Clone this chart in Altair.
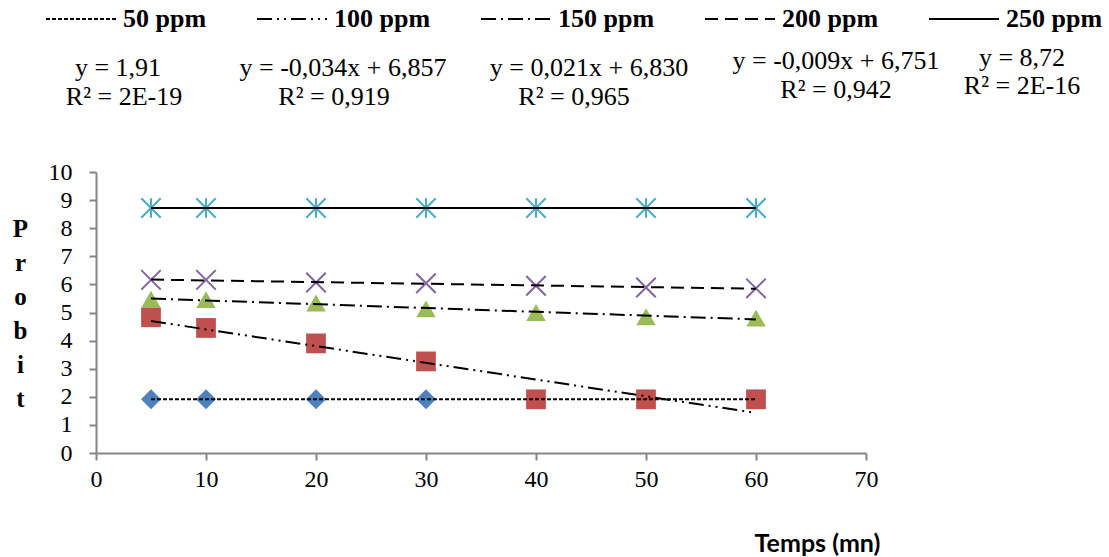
import altair as alt
import pandas as pd

# ---- data ----
temps = [5, 10, 20, 30, 40, 50, 60]
series_names = ["50 ppm", "100 ppm", "150 ppm", "200 ppm", "250 ppm"]
p50 = [1.91, 1.91, 1.91, 1.91, 1.91, 1.91, 1.91]
p100 = [4.83, 4.45, 3.90, 3.26, 1.91, 1.91, 1.91]
p150 = [5.47, 5.46, 5.34, 5.13, 5.00, 4.85, 4.80]
p200 = [6.16, 6.16, 6.07, 6.04, 5.95, 5.89, 5.86]
p250 = [8.72, 8.72, 8.72, 8.72, 8.72, 8.72, 8.72]
eq_line1 = ["y = 1,91", "y = -0,034x + 6,857", "y = 0,021x + 6,830", "y = -0,009x + 6,751", "y = 8,72"]
eq_line2 = ["R² = 2E-19", "R² = 0,919", "R² = 0,965", "R² = 0,942", "R² = 2E-16"]
x_ticks = [0, 10, 20, 30, 40, 50, 60, 70]
y_ticks = [0, 1, 2, 3, 4, 5, 6, 7, 8, 9, 10]

# ---- styles / layout ----
SERIF = "Liberation Serif, Times New Roman, serif"
colors = ["#4F81BD", "#C0504D", "#9BBB59", "#8064A2", "#4BACC6"]
dashes = [[4, 2], [15, 5, 2, 5, 2, 5], [15, 5, 2, 5], [13, 7], [1, 0]]
x_path = "M-1,-1L1,1M1,-1L-1,1"
star_path = "M-1,-1L1,1M1,-1L-1,1M0,-1L0,1"
# equation text centres (pixels relative to plot origin)
eq1_pos = [(22, -104), (247, -104), (493, -104), (740, -111), (926, -114)]
eq2_pos = [(28, -75), (238, -75), (478, -75), (740, -82), (926, -86)]

rows = []
for name, vals in zip(series_names, [p50, p100, p150, p200, p250]):
    for t, v in zip(temps, vals):
        rows.append({"x": t, "y": v, "series": name})
df = pd.DataFrame(rows)

base = alt.Chart(df)
xenc = alt.X("x:Q", scale=alt.Scale(domain=[0, 70], nice=False),
             axis=alt.Axis(values=x_ticks, grid=False, labelFlush=False, labelOverlap=False,
                           domainColor="#868686", tickColor="#868686", domainWidth=2, tickWidth=2,
                           tickSize=7, labelFont=SERIF, labelFontSize=24,
                           labelColor="black", labelPadding=7,
                           title="Temps (mn)", titleFont="Lato", titleFontWeight="bold",
                           titleFontSize=25, titleColor="black", titleX=721, titleY=90,
                           titleAlign="center", titleBaseline="middle"))
yenc = alt.Y("y:Q", scale=alt.Scale(domain=[0, 10], nice=False),
             axis=alt.Axis(values=y_ticks, grid=False, labelFlush=False, labelOverlap=False,
                           domainColor="#868686", tickColor="#868686", domainWidth=2, tickWidth=2,
                           tickSize=7, labelFont=SERIF, labelFontSize=24,
                           labelColor="black", labelPadding=17,
                           title=["P", "r", "o", "b", "i", "t"], titleAngle=0,
                           titleFont=SERIF, titleFontWeight="bold", titleFontSize=25,
                           titleLineHeight=34, titleColor="black", titleX=-76, titleY=44,
                           titleAlign="center", titleBaseline="top"))

filled = base.transform_filter(
    alt.FieldOneOfPredicate(field="series", oneOf=series_names[:3])
).mark_point(filled=True, opacity=1).encode(
    x=xenc, y=yenc,
    shape=alt.Shape("series:N", scale=alt.Scale(domain=series_names[:3],
                    range=["diamond", "square", "triangle-up"]), legend=None),
    color=alt.Color("series:N", scale=alt.Scale(domain=series_names[:3], range=colors[:3]), legend=None),
    size=alt.Size("series:N", scale=alt.Scale(domain=series_names[:3], range=[400, 380, 520]), legend=None),
)

stroked = base.transform_filter(
    alt.FieldOneOfPredicate(field="series", oneOf=series_names[3:])
).mark_point(filled=False, opacity=1, strokeWidth=2).encode(
    x=xenc, y=yenc,
    shape=alt.Shape("series:N", scale=alt.Scale(domain=series_names[3:], range=[x_path, star_path]), legend=None),
    color=alt.Color("series:N", scale=alt.Scale(domain=series_names[3:], range=colors[3:]), legend=None),
    size=alt.value(380),
)

lines = base.transform_regression("x", "y", groupby=["series"]).mark_line(
    color="black", strokeWidth=2
).encode(
    x=xenc, y=yenc,
    strokeDash=alt.StrokeDash(
        "series:N",
        scale=alt.Scale(domain=series_names, range=dashes),
        legend=alt.Legend(orient="none", legendX=-51, legendY=-189, direction="horizontal",
                          title=None, symbolType="stroke", symbolSize=4900, symbolStrokeWidth=2,
                          symbolStrokeColor="black", labelFont=SERIF,
                          labelFontWeight="bold", labelFontSize=26, labelColor="black",
                          labelOffset=6, columnPadding=46, labelLimit=300),
    ),
)

texts = []
for lines_list, pos_list in ((eq_line1, eq1_pos), (eq_line2, eq2_pos)):
    for txt, (px, py) in zip(lines_list, pos_list):
        texts.append(
            alt.Chart(pd.DataFrame({"t": [txt]})).mark_text(
                font=SERIF, fontSize=26, align="center",
                baseline="middle", color="black"
            ).encode(x=alt.value(px), y=alt.value(py), text="t:N")
        )

chart = alt.layer(filled, stroked, lines, *texts).resolve_scale(
    color="independent", shape="independent", size="independent"
).properties(
    width=770, height=281,
    autosize=alt.AutoSizeParams(type="none"),
    padding={"left": 96, "top": 172, "right": 243, "bottom": 104},
).configure_view(stroke=None).configure_axis(labelFont=SERIF)

chart.save("out.html", embed_options={"renderer": "svg", "actions": False})
